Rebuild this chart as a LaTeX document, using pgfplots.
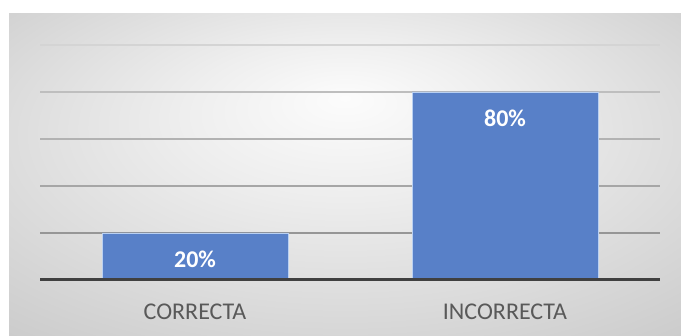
\documentclass[border=0pt]{standalone}
\usepackage{pgfplots}
\pgfplotsset{compat=1.18}
\usepackage{fontspec}
\setmainfont{Carlito}
\definecolor{bgA}{RGB}{252,252,252}
\definecolor{bgB}{RGB}{238,238,238}
\definecolor{bgC}{RGB}{214,214,214}
\definecolor{bgD}{RGB}{198,198,198}
\definecolor{barblue}{RGB}{88,128,200}
\definecolor{baredge}{RGB}{185,208,242}
\definecolor{axisc}{RGB}{64,64,64}
\definecolor{txt}{RGB}{89,89,89}
\pgfdeclareradialshading{chartbg}{\pgfpoint{0bp}{12bp}}{color(0bp)=(bgA); color(12bp)=(bgB); color(30bp)=(bgC); color(42bp)=(bgD); color(50bp)=(bgD)}
\begin{document}
\begin{tikzpicture}[x=1pt,y=1pt]
\fill[white] (0,0) rectangle (681,336);
\shade[shading=chartbg] (9,0) rectangle (681,322);
\begin{axis}[
  at={(40pt,56pt)}, anchor=south west,
  scale only axis, width=620pt, height=235pt,
  xmin=-0.5, xmax=1.5, ymin=0, ymax=100,
  ybar, bar width=186pt,
  axis line style={draw=none},
  ytick=\empty,
  major tick length=0pt,
  xtick={0,1}, xticklabels={CORRECTA,INCORRECTA},
  xticklabel style={font=\fontsize{24}{28}\selectfont, text=txt, anchor=base, yshift=-40pt},
  /pgf/number format/assume math mode=true,
  nodes near coords={\pgfmathprintnumber{\pgfplotspointmeta}\%},
  nodes near coords style={font=\bfseries\fontsize{24}{28}\selectfont, text=white, anchor=center, yshift=-26pt},
  clip=false,
]
\draw[color={rgb,255:red,212;green,212;blue,212}, line width=1.5pt] (axis cs:-0.5,100) -- (axis cs:1.5,100);
\draw[color={rgb,255:red,190;green,190;blue,190}, line width=1.5pt] (axis cs:-0.5,80) -- (axis cs:1.5,80);
\draw[color={rgb,255:red,178;green,178;blue,178}, line width=1.5pt] (axis cs:-0.5,60) -- (axis cs:1.5,60);
\draw[color={rgb,255:red,166;green,166;blue,166}, line width=1.5pt] (axis cs:-0.5,40) -- (axis cs:1.5,40);
\draw[color={rgb,255:red,150;green,150;blue,150}, line width=1.5pt] (axis cs:-0.5,20) -- (axis cs:1.5,20);
\addplot[fill=barblue, draw=baredge, line width=0.8pt] coordinates {(0,20) (1,80)};
\draw[axisc, line width=3pt] (axis cs:-0.5,0) -- (axis cs:1.5,0);
\end{axis}
\end{tikzpicture}
\end{document}
